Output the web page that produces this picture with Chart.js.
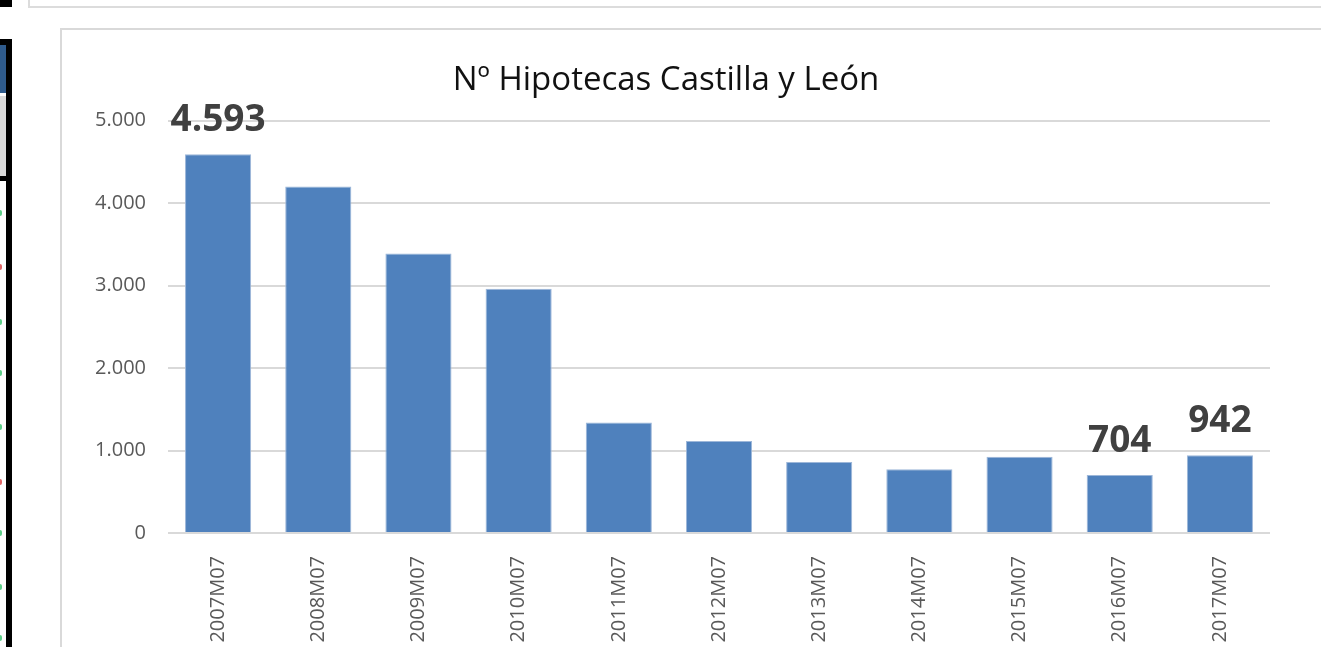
<!DOCTYPE html>
<html>
<head>
  <meta charset="utf-8">
  <title>Nº Hipotecas Castilla y León</title>
  <script src="https://cdn.jsdelivr.net/npm/chart.js"></script>
  <style>
    body {
      margin: 0;
      background: #fff;
      width: 1321px;
      height: 647px;
      overflow: hidden;
      position: relative;
      font-family: "Open Sans", Arial, sans-serif;
    }
    .deco { position: absolute; }
    #topBox { left: 28px; top: -10px; width: 1400px; height: 14px; border: 2px solid #dcdcdc; }
    #chartFrame { left: 60px; top: 28px; width: 1400px; height: 700px; border: 2px solid #d9d9d9; background: #fff; }
    #chartWrapper { position: absolute; left: 62px; top: 30px; width: 1259px; height: 617px; }
  </style>
</head>
<body>
  <!-- bits of the surrounding spreadsheet UI -->
  <div class="deco" id="topBox"></div>
  <div class="deco" style="left:0;top:0;width:12px;height:7px;background:#000"></div>
  <div class="deco" style="left:0;top:39px;width:12px;height:6px;background:#000"></div>
  <div class="deco" style="left:6px;top:39px;width:6px;height:620px;background:#000"></div>
  <div class="deco" style="left:0;top:45px;width:6px;height:48px;background:#2f5b8c"></div>
  <div class="deco" style="left:0;top:96px;width:6px;height:80px;background:#d9d9d9"></div>
  <div class="deco" style="left:0;top:176px;width:12px;height:5px;background:#000"></div>
  <div class="deco" id="chartFrame"></div>

  <div id="chartWrapper">
    <canvas id="hipChart"></canvas>
  </div>

  <script>
    // dots at the left edge (status colors of the hidden table)
    const dotRows = [213, 267, 322, 373, 427, 482, 533, 587, 638];
    const dotColors = ['#5fcf8a', '#e06666', '#5fcf8a', '#5fcf8a', '#5fcf8a', '#e06666', '#5fcf8a', '#5fcf8a', '#5fcf8a'];
    dotRows.forEach((y, i) => {
      const d = document.createElement('div');
      d.className = 'deco';
      d.style.cssText = 'left:0;top:' + (y - 3) + 'px;width:2px;height:6px;border-radius:0 3px 3px 0;background:' + dotColors[i];
      document.body.appendChild(d);
    });

    const periods = ['2007M07', '2008M07', '2009M07', '2010M07', '2011M07', '2012M07',
                     '2013M07', '2014M07', '2015M07', '2016M07', '2017M07'];
    const hipotecas = [4593, 4200, 3390, 2960, 1340, 1115, 862, 773, 923, 704, 942];
    const labelledPeriods = ['2007M07', '2016M07', '2017M07'];
    const yTicks = [0, 1000, 2000, 3000, 4000, 5000];

    // 4593 -> "4.593"
    function fmt(v) {
      return String(v).replace(/\B(?=(\d{3})+(?!\d))/g, '.');
    }

    const valueLabels = {
      id: 'valueLabels',
      afterDatasetsDraw(chart) {
        const c = chart.ctx;
        const meta = chart.getDatasetMeta(0);
        c.save();
        c.font = 'bold 37px "Open Sans"';
        c.fillStyle = '#404040';
        c.textAlign = 'center';
        c.textBaseline = 'alphabetic';
        periods.forEach((p, i) => {
          if (!labelledPeriods.includes(p)) return;
          const bar = meta.data[i];
          c.fillText(fmt(hipotecas[i]), bar.x, bar.y - 23);
        });
        c.restore();
      }
    };

    const ctx = document.getElementById('hipChart').getContext('2d');
    const hipChart = new Chart(ctx, {
      type: 'bar',
      data: {
        labels: periods,
        datasets: [{
          label: 'Nº Hipotecas',
          data: hipotecas,
          backgroundColor: '#4f81bd',
          borderColor: '#9db7d9',
          borderWidth: 1,
          barPercentage: 0.66,
          categoryPercentage: 1.0
        }]
      },
      options: {
        responsive: true,
        maintainAspectRatio: false,
        animation: false,
        layout: { padding: { left: 0, right: 51, top: 0, bottom: 0 } },
        plugins: {
          legend: { display: false },
          tooltip: { enabled: false },
          title: {
            display: true,
            text: 'Nº Hipotecas Castilla y León',
            color: '#111',
            font: { family: '"Open Sans"', size: 33, weight: 'normal' },
            padding: { top: 31, bottom: 20 }
          }
        },
        scales: {
          x: {
            grid: { display: false },
            border: { display: false },
            ticks: {
              color: '#595959',
              font: { family: '"Open Sans"', size: 20 },
              minRotation: 90,
              maxRotation: 90,
              autoSkip: false,
              padding: 15
            },
            afterFit(scale) { scale.height = 114; }
          },
          y: {
            min: 0,
            max: 5000,
            afterBuildTicks(scale) { scale.ticks = yTicks.map(v => ({ value: v })); },
            grid: { color: '#d9d9d9', lineWidth: 2, drawTicks: false },
            border: { display: false },
            ticks: {
              color: '#595959',
              font: { family: '"Open Sans"', size: 20 },
              padding: 22,
              callback: v => fmt(v)
            },
            afterFit(scale) { scale.width = 106; }
          }
        }
      },
      plugins: [valueLabels]
    });
  </script>
</body>
</html>
